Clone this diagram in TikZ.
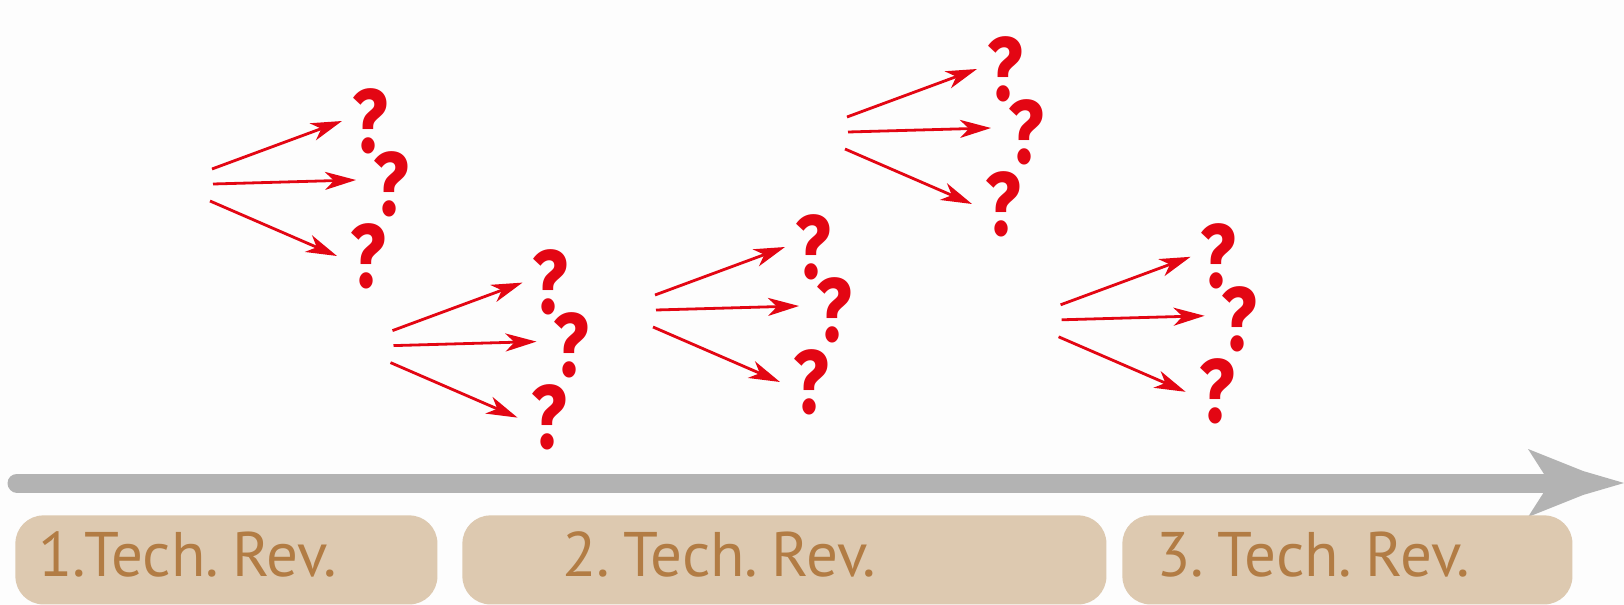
\documentclass[tikz,border=0pt]{standalone}
\usepackage{fontspec}
\setmainfont{PT Sans}
\newfontfamily\queryfont[FakeStretch=0.82]{Fira Sans}
\usetikzlibrary{arrows.meta}
\definecolor{qred}{RGB}{227,6,19}
\definecolor{axisgray}{RGB}{179,179,179}
\definecolor{boxtan}{RGB}{221,201,176}
\definecolor{labelbrown}{RGB}{178,124,68}
\definecolor{paper}{RGB}{253,253,253}

% narrower word spaces for the revision labels
\newcommand\tightwords{\spaceskip=4pt\relax}

% one fan of three arrows ending in question marks
% #1 name prefix, #2 #3 offset of the fan
\newcommand\questionfan[3]{%
  \begin{scope}[shift={(#2,#3)}]
    \coordinate (#1s1) at (212,169);
    \coordinate (#1t1) at (342,121);
    \coordinate (#1s2) at (213,184);
    \coordinate (#1t2) at (356,180);
    \coordinate (#1s3) at (210,201);
    \coordinate (#1t3) at (337,256);
    \node[query] (#1q1) at (370,121) {?};
    \node[query] (#1q2) at (391,184) {?};
    \node[query] (#1q3) at (368.5,256) {?};
    \draw[fork] (#1s1) -- (#1t1);
    \draw[fork] (#1s2) -- (#1t2);
    \draw[fork] (#1s3) -- (#1t3);
  \end{scope}}

\begin{document}
\begin{tikzpicture}[x=0.5pt,y=-0.5pt,
  fork/.style={draw=qred, line width=1.4pt,
    -{Stealth[length=15.5pt,width=9pt,inset=4.5pt]}},
  query/.style={text=qred, inner sep=0pt,
    font=\queryfont\bfseries\fontsize{45}{45}\selectfont},
  phase/.style={fill=boxtan, rounded corners=14pt, inner sep=0pt,
    minimum height=44.5pt, anchor=north west},
  phaselabel/.style={text=labelbrown, inner sep=0pt, anchor=base west,
    font=\fontsize{31.5}{32}\selectfont},
  axis/.style={draw=axisgray, line width=9.5pt, line cap=round},
]
\fill[paper] (0,0) rectangle (1624,605);
\useasboundingbox (0,0) rectangle (1624,605);

% the fans of open questions
\questionfan{ga}{0}{0}
\questionfan{gb}{180.5}{161.6}
\questionfan{gc}{443}{126}
\questionfan{gd}{635}{-52}
\questionfan{ge}{848.6}{135.8}

% time axis
\coordinate (axstart) at (17,483);
\coordinate (axend) at (1545,483);
\coordinate (axtip) at (1624,483);
\draw[axis] (axstart) -- (axend);
\fill[axisgray] (axtip) -- (1583,471) -- (1528,449) -- (1544,474)
  -- (1544,492) -- (1528,517) -- (1583,495) -- cycle;

% the technology revisions
\node[phase, minimum width=211pt] (rev1) at (15,515) {};
\node[phase, minimum width=322pt] (rev2) at (462,515) {};
\node[phase, minimum width=225pt] (rev3) at (1122,515) {};
\node[phaselabel] (lab1) at (38,576) {\tightwords 1.Tech. Rev.};
\node[phaselabel] (lab2) at (562,576) {\tightwords 2. Tech. Rev.};
\node[phaselabel] (lab3) at (1156,576) {\tightwords 3. Tech. Rev.};
\end{tikzpicture}
\end{document}
